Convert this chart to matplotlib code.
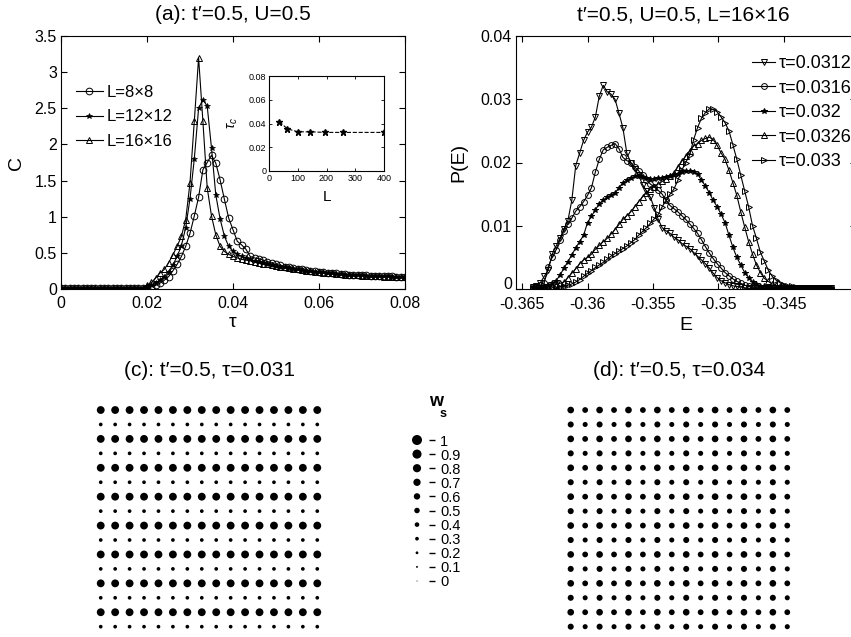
import numpy as np
import matplotlib
matplotlib.use('Agg')
import matplotlib.pyplot as plt
import matplotlib.transforms as mtransforms

plt.rcParams['font.family'] = ['Liberation Sans', 'DejaVu Sans']
plt.rcParams['axes.unicode_minus'] = False
plt.rcParams['mathtext.fontset'] = 'custom'
plt.rcParams['mathtext.rm'] = 'Liberation Sans'
plt.rcParams['mathtext.it'] = 'Liberation Sans:italic'

W, H = 851, 637

# ---- panel (a): specific heat C vs tau ----
tau = np.arange(0, 0.0805, 0.001)
C_8 = [0.01] * 19 + [
    0.015, 0.02, 0.03, 0.05, 0.08, 0.12, 0.17, 0.25, 0.34, 0.45,
    0.59, 0.77, 1.01, 1.27, 1.65, 1.75, 1.85, 1.74, 1.51, 1.24,
    0.98, 0.82, 0.66, 0.61, 0.55, 0.45, 0.43, 0.42, 0.40, 0.38,
    0.36, 0.34, 0.33, 0.31, 0.30, 0.29, 0.28, 0.27, 0.26, 0.25,
    0.245, 0.24, 0.23, 0.225, 0.22, 0.215, 0.21, 0.205, 0.20, 0.20,
    0.195, 0.19, 0.19, 0.185, 0.185, 0.18, 0.18, 0.175, 0.175, 0.17,
    0.17, 0.17]
C_12 = [0.01] * 19 + [
    0.015, 0.03, 0.05, 0.08, 0.12, 0.17, 0.24, 0.33, 0.45, 0.60,
    0.85, 1.25, 1.80, 2.50, 2.62, 2.53, 1.95, 1.30, 0.97, 0.73,
    0.59, 0.52, 0.48, 0.45, 0.43, 0.41, 0.39, 0.38, 0.36, 0.35,
    0.33, 0.32, 0.31, 0.30, 0.29, 0.28, 0.27, 0.26, 0.255, 0.25,
    0.24, 0.235, 0.23, 0.22, 0.215, 0.21, 0.205, 0.20, 0.20, 0.195,
    0.19, 0.19, 0.185, 0.185, 0.18, 0.18, 0.175, 0.175, 0.17, 0.17,
    0.165, 0.165]
C_16 = [0.01] * 19 + [
    0.02, 0.05, 0.09, 0.15, 0.22, 0.27, 0.36, 0.47, 0.59, 0.73,
    0.96, 1.47, 2.32, 3.20, 2.32, 1.40, 1.01, 0.75, 0.59, 0.52,
    0.48, 0.45, 0.43, 0.41, 0.40, 0.39, 0.37, 0.36, 0.35, 0.34,
    0.33, 0.32, 0.31, 0.30, 0.29, 0.28, 0.27, 0.26, 0.25, 0.245,
    0.24, 0.23, 0.225, 0.22, 0.215, 0.21, 0.205, 0.20, 0.195, 0.19,
    0.19, 0.185, 0.18, 0.18, 0.175, 0.175, 0.17, 0.17, 0.165, 0.165,
    0.16, 0.16]
size_labels = ['L=8×8', 'L=12×12', 'L=16×16']

# inset: tau_c vs number of sites
L_sites = [36, 64, 100, 144, 196, 256, 400]
tau_c = [0.0415, 0.0355, 0.033, 0.033, 0.0325, 0.0325, 0.0325]

# ---- panel (b): energy histograms ----
E = np.linspace(-0.3642, -0.3414, 77)
P_0312 = [
    0.0003, 0.0005, 0.0010, 0.0020, 0.0030, 0.0055, 0.0068, 0.0080, 0.0095, 0.0108,
    0.0140, 0.0195, 0.0215, 0.0235, 0.0248, 0.0256, 0.0272, 0.0305, 0.0322, 0.0312,
    0.0308, 0.0300, 0.0278, 0.0255, 0.0215, 0.0200, 0.0190, 0.0180, 0.0165, 0.0155,
    0.0145, 0.0128, 0.0110, 0.0097, 0.0092, 0.0088, 0.0082, 0.0078, 0.0072, 0.0068,
    0.0064, 0.0058, 0.0052, 0.0046, 0.0040, 0.0033, 0.0025, 0.0018, 0.0013, 0.0010,
    0.0007, 0.0005, 0.0004, 0.0003, 0.0002, 0.0001, 0.0001, 0.0001, 0.0001, 0.0001,
    0.0001, 0.0001, 0.0001, 0.0001, 0.0001, 0.0001, 0.0001, 0.0001, 0.0001, 0.0001,
    0.0001, 0.0001, 0.0001, 0.0001, 0.0001, 0.0001, 0.0001]
P_0316 = [
    0.0001, 0.0003, 0.0006, 0.0010, 0.0035, 0.0050, 0.0062, 0.0078, 0.0092, 0.0103,
    0.0112, 0.0123, 0.0130, 0.0138, 0.0148, 0.0160, 0.0185, 0.0205, 0.0220, 0.0224,
    0.0227, 0.0230, 0.0222, 0.0208, 0.0203, 0.0200, 0.0193, 0.0187, 0.0180, 0.0172,
    0.0166, 0.0161, 0.0156, 0.0150, 0.0140, 0.0132, 0.0127, 0.0122, 0.0116, 0.0110,
    0.0103, 0.0096, 0.0088, 0.0078, 0.0067, 0.0057, 0.0048, 0.0040, 0.0033, 0.0026,
    0.0021, 0.0016, 0.0012, 0.0009, 0.0006, 0.0004, 0.0003, 0.0002, 0.0001, 0.0001,
    0.0001, 0.0001, 0.0001, 0.0001, 0.0001, 0.0001, 0.0001, 0.0001, 0.0001, 0.0001,
    0.0001, 0.0001, 0.0001, 0.0001, 0.0001, 0.0001, 0.0001]
P_032 = [
    0.0001, 0.0001, 0.0002, 0.0004, 0.0006, 0.0009, 0.0013, 0.0022, 0.0033, 0.0043,
    0.0054, 0.0065, 0.0075, 0.0085, 0.0105, 0.0115, 0.0125, 0.0135, 0.0140, 0.0145,
    0.0148, 0.0152, 0.0160, 0.0168, 0.0172, 0.0175, 0.0178, 0.0178, 0.0177, 0.0175,
    0.0174, 0.0174, 0.0175, 0.0176, 0.0177, 0.0178, 0.0180, 0.0182, 0.0185, 0.0187,
    0.0187, 0.0185, 0.0182, 0.0172, 0.0163, 0.0152, 0.0140, 0.0130, 0.0118, 0.0105,
    0.0085, 0.0066, 0.0050, 0.0038, 0.0026, 0.0018, 0.0011, 0.0008, 0.0005, 0.0004,
    0.0003, 0.0002, 0.0001, 0.0001, 0.0001, 0.0001, 0.0001, 0.0001, 0.0001, 0.0001,
    0.0001, 0.0001, 0.0001, 0.0001, 0.0001, 0.0001, 0.0001]
P_0326 = [
    0.0001, 0.0001, 0.0001, 0.0002, 0.0003, 0.0005, 0.0007, 0.0009, 0.0011, 0.0018,
    0.0025, 0.0032, 0.0040, 0.0046, 0.0050, 0.0055, 0.0063, 0.0069, 0.0075, 0.0080,
    0.0087, 0.0094, 0.0102, 0.0110, 0.0116, 0.0122, 0.0130, 0.0138, 0.0146, 0.0152,
    0.0158, 0.0162, 0.0166, 0.0170, 0.0174, 0.0178, 0.0184, 0.0193, 0.0202, 0.0210,
    0.0218, 0.0226, 0.0230, 0.0235, 0.0238, 0.0240, 0.0236, 0.0227, 0.0215, 0.0205,
    0.0188, 0.0168, 0.0148, 0.0122, 0.0098, 0.0075, 0.0055, 0.0038, 0.0026, 0.0017,
    0.0012, 0.0008, 0.0006, 0.0004, 0.0003, 0.0002, 0.0001, 0.0001, 0.0001, 0.0001,
    0.0001, 0.0001, 0.0001, 0.0001, 0.0001, 0.0001, 0.0001]
P_033 = [
    0.0001, 0.0001, 0.0001, 0.0001, 0.0001, 0.0002, 0.0002, 0.0003, 0.0004, 0.0006,
    0.0008, 0.0011, 0.0015, 0.0020, 0.0025, 0.0029, 0.0034, 0.0038, 0.0042, 0.0047,
    0.0052, 0.0056, 0.0060, 0.0064, 0.0068, 0.0073, 0.0078, 0.0085, 0.0091, 0.0097,
    0.0104, 0.0111, 0.0118, 0.0130, 0.0140, 0.0150, 0.0158, 0.0172, 0.0188, 0.0200,
    0.0212, 0.0236, 0.0255, 0.0270, 0.0279, 0.0285, 0.0284, 0.0280, 0.0272, 0.0263,
    0.0250, 0.0228, 0.0205, 0.0180, 0.0155, 0.0130, 0.0100, 0.0080, 0.0058, 0.0044,
    0.0030, 0.0020, 0.0014, 0.0010, 0.0007, 0.0005, 0.0004, 0.0003, 0.0002, 0.0001,
    0.0001, 0.0001, 0.0001, 0.0001, 0.0001, 0.0001, 0.0001]
tau_labels = ['τ=0.0312', 'τ=0.0316', 'τ=0.032', 'τ=0.0326', 'τ=0.033']

# ---- panels (c), (d): site weights w_s on 16x16 lattice (2x2 unit cell) ----
w_c_cell = [[0.76, 0.76], [0.30, 0.30]]
w_d_cell = [[0.63, 0.53], [0.56, 0.45]]
w_levels = [1, 0.9, 0.8, 0.7, 0.6, 0.5, 0.4, 0.3, 0.2, 0.1, 0]
w_level_labels = ['1', '0.9', '0.8', '0.7', '0.6', '0.5', '0.4', '0.3', '0.2', '0.1', '0']


def box(l, t, r, b):
    return [l / W, 1 - b / H, (r - l) / W, (b - t) / H]


def dot_size(w):
    d = 1 + 9 * np.asarray(w, dtype=float)   # diameter in px
    return (d * 0.72) ** 2


fig = plt.figure(figsize=(W / 100, H / 100), dpi=100)

# panel (a)
ax = fig.add_axes(box(61, 36, 405, 289))
ax.plot(tau, C_8, '-o', color='k', lw=0.8, ms=4.8, mfc='none', mew=0.7, label=size_labels[0])
ax.plot(tau, C_12, '-*', color='k', lw=0.8, ms=4.0, mew=0.5, label=size_labels[1])
ax.plot(tau, C_16, '-^', color='k', lw=0.8, ms=4.8, mfc='none', mew=0.7, label=size_labels[2])
ax.set_xlim(0, 0.08)
ax.set_ylim(0, 3.5)
ax.set_xticks([0, 0.02, 0.04, 0.06, 0.08])
ax.set_xticklabels(['0', '0.02', '0.04', '0.06', '0.08'])
ax.set_yticks([0, 0.5, 1, 1.5, 2, 2.5, 3, 3.5])
ax.set_yticklabels(['0', '0.5', '1', '1.5', '2', '2.5', '3', '3.5'])
ax.tick_params(direction='in', top=True, right=True, labelsize=11.5, length=4, width=0.8, pad=3)
ax.tick_params(axis='x', pad=5)
ax.set_ylabel('C', fontsize=14)
ax.yaxis.set_label_coords(-0.105, 0.5)
ax.set_xlabel('τ', fontsize=14)
ax.xaxis.set_label_coords(0.5, -0.1)
ax.legend(loc='upper left', bbox_to_anchor=(76 / W, 1 - 85 / H), bbox_transform=fig.transFigure,
          frameon=False, fontsize=12, handlelength=1.6, handletextpad=0.25,
          labelspacing=0.56, borderpad=0, borderaxespad=0)

# inset
axi = fig.add_axes(box(269, 76, 384, 171))
axi.plot(L_sites, tau_c, '--*', color='k', lw=0.8, ms=5)
axi.set_xlim(0, 400)
axi.set_ylim(0, 0.08)
axi.set_xticks([0, 100, 200, 300, 400])
axi.set_yticks([0, 0.02, 0.04, 0.06, 0.08])
axi.set_yticklabels(['0', '0.02', '0.04', '0.06', '0.08'])
axi.tick_params(direction='in', top=True, right=True, labelsize=6.5, length=2.5, width=0.6, pad=2)
axi.set_xlabel('L', fontsize=11)
axi.xaxis.set_label_coords(0.5, -0.2)
axi.set_ylabel(r'$\tau_c$', fontsize=10)
axi.yaxis.set_label_coords(-0.25, 0.5)

# panel (b)
axb = fig.add_axes(box(516, 36, 856, 289))
series_b = [P_0312, P_0316, P_032, P_0326, P_033]
markers_b = ['v', 'o', '*', '^', '>']
for P, m, lab in zip(series_b, markers_b, tau_labels):
    fc = 'k' if m == '*' else 'none'
    axb.plot(E, P, '-' + m, color='k', lw=0.8, ms=4.2, mfc=fc, mew=0.7, label=lab)
axb.set_xlim(-0.36546, -0.3395)
axb.set_ylim(0, 0.04)
axb.set_xticks([-0.365, -0.36, -0.355, -0.35, -0.345])
axb.set_xticklabels(['-0.365', '-0.36', '-0.355', '-0.35', '-0.345'])
axb.set_yticks([0, 0.01, 0.02, 0.03, 0.04])
axb.set_yticklabels(['0', '0.01', '0.02', '0.03', '0.04'])
axb.tick_params(direction='in', top=True, right=True, labelsize=11.5, length=4, width=0.8, pad=3)
axb.tick_params(axis='x', pad=6)
# lift the "0" y label a little so it clears "-0.365"
zero_lbl = axb.get_yticklabels()[0]
zero_lbl.set_transform(zero_lbl.get_transform() +
                       mtransforms.ScaledTranslation(0, 4 / 72, fig.dpi_scale_trans))
axb.set_ylabel('P(E)', fontsize=14)
axb.yaxis.set_label_coords(-0.144, 0.5)
axb.set_xlabel('E', fontsize=14)
axb.xaxis.set_label_coords(0.5, -0.11)
axb.legend(loc='upper left', bbox_to_anchor=(752 / W, 1 - 55 / H), bbox_transform=fig.transFigure,
           frameon=False, fontsize=13, handlelength=1.3, handletextpad=0.2,
           labelspacing=0.42, borderpad=0, borderaxespad=0)

# panels (c) and (d)
rows, cols = np.meshgrid(np.arange(16), np.arange(16), indexing='ij')
for cell, left in [(w_c_cell, 93.5), (w_d_cell, 563.5)]:
    w = np.tile(np.array(cell), (8, 8))
    axl = fig.add_axes(box(left, 402.8, left + 231, 633.9))
    axl.scatter(cols.ravel(), rows.ravel(), s=dot_size(w.ravel()), c='k', edgecolors='none')
    axl.set_xlim(-0.5, 15.5)
    axl.set_ylim(15.5, -0.5)
    axl.axis('off')

# w_s size legend
axw = fig.add_axes(box(405, 425.9, 429, 595.1))
axw.scatter(np.zeros(len(w_levels)), w_levels, s=dot_size(w_levels), c='k', edgecolors='none')
axw.set_xlim(-1, 1)
axw.set_ylim(-0.1, 1.1)
axw.set_xticks([])
axw.set_yticks(w_levels)
axw.set_yticklabels(w_level_labels)
for s in axw.spines.values():
    s.set_visible(False)
axw.tick_params(axis='y', left=False, right=True, labelleft=False, labelright=True,
                direction='out', length=4, width=1, labelsize=10.5, pad=4)
fig.text(429 / W, 1 - 402 / H, 'w', fontsize=13, fontweight='bold', ha='left', va='center')
fig.text(440 / W, 1 - 414 / H, 's', fontsize=9, fontweight='bold', ha='left', va='center')

# titles
fig.text(233 / W, 1 - 15 / H, '(a): t′=0.5, U=0.5', fontsize=15, ha='center', va='center')
fig.text(683 / W, 1 - 15 / H, 't′=0.5, U=0.5, L=16×16', fontsize=15, ha='center', va='center')
fig.text(209 / W, 1 - 370 / H, '(c): t′=0.5, τ=0.031', fontsize=15, ha='center', va='center')
fig.text(679 / W, 1 - 370 / H, '(d): t′=0.5, τ=0.034', fontsize=15, ha='center', va='center')

fig.savefig('out.png', dpi=100)
